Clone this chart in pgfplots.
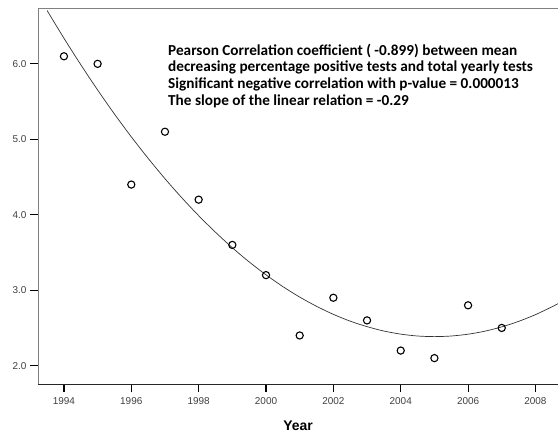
\documentclass[border=0pt]{standalone}
\usepackage{pgfplots}
\pgfplotsset{compat=1.18}
\usepackage{fontspec}
\setmainfont{Liberation Sans}
\newfontfamily\calibri{Carlito}
\begin{document}
\begin{tikzpicture}
\begin{axis}[
 scale only axis, width=520bp, height=376bp,
 xmin=1993.23, xmax=2008.67, ymin=1.757, ymax=6.74,
 axis x line*=bottom, axis y line*=left,
 x axis line style={-, black!85, line width=0.8pt},
 y axis line style={-, gray, line width=0.8pt},
 xtick={1994,1996,...,2008}, ytick={2,3,4,5,6},
 x tick label style={/pgf/number format/1000 sep={}, yshift=-2bp},
 yticklabel style={/pgf/number format/.cd, fixed, fixed zerofill, precision=1},
 tick align=outside, major tick length=8bp,
 every major tick/.append style={black, line width=1.2pt},
 ticklabel style={font=\fontsize{10}{12}\selectfont, text=black!75},
 /pgf/number format/assume math mode=true,
 xlabel={Year}, xlabel style={font=\fontsize{14}{16}\selectfont\bfseries, yshift=-9bp},
 clip=false,
]
\addplot[black!80, line width=0.7pt, smooth, no marks] coordinates {
(1993.5,6.707) (1994,6.340) (1994.5,5.989) (1995,5.654) (1995.5,5.335) (1996,5.033)
(1996.5,4.748) (1997,4.478) (1997.5,4.225) (1998,3.988) (1998.5,3.768) (1999,3.563)
(1999.5,3.375) (2000,3.204) (2000.5,3.048) (2001,2.909) (2001.5,2.787) (2002,2.680)
(2002.5,2.590) (2003,2.517) (2003.5,2.459) (2004,2.418) (2004.5,2.393) (2005,2.385)
(2005.5,2.393) (2006,2.417) (2006.5,2.457) (2007,2.514) (2007.5,2.587) (2008,2.676)
(2008.5,2.782) (2008.67,2.822)};
\addplot[only marks, mark=o, mark size=3.6bp, mark options={black, line width=1.1pt}] coordinates {
(1994,6.1) (1995,6.0) (1996,4.4) (1997,5.1) (1998,4.2) (1999,3.6) (2000,3.2)
(2001,2.4) (2002,2.9) (2003,2.6) (2004,2.2) (2005,2.1) (2006,2.8) (2007,2.5)};
\draw[gray, line width=0.8pt] (rel axis cs:0,1) -- (rel axis cs:1,1);
\node[anchor=north west, inner sep=0pt, align=left, font=\calibri\bfseries\fontsize{15.3}{16.7}\selectfont]
 at (axis description cs:0.25,0.905) {Pearson Correlation coefficient ( -0.899) between mean\\
decreasing percentage positive tests and total yearly tests\\
Significant negative correlation with p-value = 0.000013\\
The slope of the linear relation = -0.29};
\end{axis}
\pgfresetboundingbox
\path[use as bounding box] (-38bp,-50bp) rectangle (520bp,384bp);
\end{tikzpicture}
\end{document}
